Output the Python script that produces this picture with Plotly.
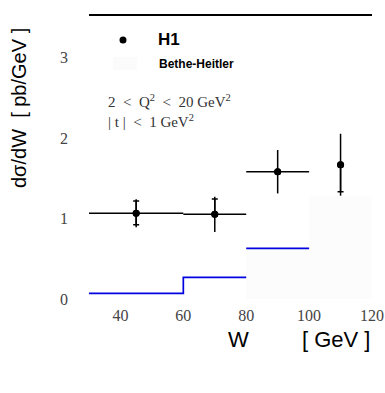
import plotly.graph_objects as go

# ---- data ----
W = [45, 70, 90, 110]
W_err = [15, 10, 10, 0]
xsec = [1.066, 1.053, 1.583, 1.67]
err_tot = [0.174, 0.22, 0.27, 0.385]
stat_up = [0.153, 0.19, 0.0, 0.0]
stat_dn = [0.142, 0.0, 0.0, 0.335]

bh_x = [30, 40, 60, 80, None, 80, 100]
bh_y = [0.07, 0.07, 0.27, 0.27, None, 0.63, 0.63]
bh_fill_x = [90, 110]
bh_fill_y = [0.63, 1.28]
bh_fill_w = [20, 20]

xticks = [40, 60, 80, 100, 120]
yticks = [0, 1, 2, 3]

W_PX, H_PX = 385, 393
L, R, T, B = 89, 13, 15, 91
PW = W_PX - L - R
PH = H_PX - T - B


def px(x):
    return (x - L) / PW


def py(y):
    return (H_PX - B - y) / PH


fig = go.Figure()

fig.add_trace(go.Bar(x=bh_fill_x, y=bh_fill_y, width=bh_fill_w,
                     marker=dict(color="#fcfcfc", line=dict(width=0)),
                     showlegend=False, hoverinfo="skip"))

fig.add_trace(go.Scatter(x=bh_x, y=bh_y, mode="lines", line_shape="hv",
                         line=dict(color="#0000e0", width=1.7),
                         showlegend=False, connectgaps=False))

# total errors
fig.add_trace(go.Scatter(x=W, y=xsec, mode="markers",
                         marker=dict(color="black", size=7),
                         error_x=dict(type="data", array=W_err, color="black",
                                      thickness=1.5, width=0),
                         error_y=dict(type="data", array=err_tot, color="black",
                                      thickness=1.5, width=0),
                         showlegend=False))
# stat ticks
fig.add_trace(go.Scatter(x=W, y=xsec, mode="markers",
                         marker=dict(color="black", size=7),
                         error_y=dict(type="data", symmetric=False, array=stat_up,
                                      arrayminus=stat_dn, color="black",
                                      thickness=1.5, width=3),
                         showlegend=False))

fig.add_shape(type="line", xref="paper", yref="paper", x0=0, x1=1, y0=1, y1=1,
              line=dict(color="black", width=2))

# legend
fig.add_shape(type="circle", xref="paper", yref="paper",
              x0=px(119.5), x1=px(126.5), y0=py(43.5), y1=py(36.5),
              fillcolor="black", line=dict(width=0))
fig.add_shape(type="rect", xref="paper", yref="paper",
              x0=px(113), x1=px(137), y0=py(70), y1=py(57),
              fillcolor="#fbfbfb", line=dict(width=0))

NB = "\u00a0"
ann = [
    dict(text="<b>H1</b>", x=px(156), y=py(40), xanchor="left", yanchor="middle",
         font=dict(family="Liberation Sans", size=17, color="black")),
    dict(text="<b>Bethe-Heitler</b>", x=px(157), y=py(64), xanchor="left", yanchor="middle",
         font=dict(family="Liberation Sans", size=12, color="black")),
    dict(text=f"2{NB}{NB}&lt;{NB}{NB}Q<sup>2</sup>{NB}{NB}&lt;{NB}{NB}20{NB}GeV<sup>2</sup>",
         x=px(106), y=py(101), xanchor="left", yanchor="middle",
         font=dict(family="Liberation Serif", size=15, color="#333")),
    dict(text=f"|{NB}t{NB}|{NB}{NB}&lt;{NB}{NB}1{NB}GeV<sup>2</sup>",
         x=px(106), y=py(121), xanchor="left", yanchor="middle",
         font=dict(family="Liberation Serif", size=15, color="#333")),
    dict(text=f"dσ/dW{NB}{NB}[{NB}pb/GeV{NB}]", x=px(19), y=py(108), textangle=-90,
         xanchor="center", yanchor="middle",
         font=dict(family="Liberation Sans", size=20, color="black")),
    dict(text="W", x=px(238), y=py(339), xanchor="center", yanchor="middle",
         font=dict(family="Liberation Sans", size=22, color="black")),
    dict(text=f"[{NB}GeV{NB}]", x=px(336), y=py(339), xanchor="center", yanchor="middle",
         font=dict(family="Liberation Sans", size=22, color="black")),
]
for a in ann:
    a.update(xref="paper", yref="paper", showarrow=False)
fig.update_layout(annotations=ann)

fig.update_layout(
    width=W_PX, height=H_PX,
    margin=dict(l=L, r=R, t=T, b=B, pad=0, autoexpand=False),
    plot_bgcolor="white", paper_bgcolor="white",
    showlegend=False,
    xaxis=dict(range=[30, 120], tickvals=xticks, showgrid=False, zeroline=False,
               showline=False, ticks="", ticklabelstandoff=2, automargin=False,
               tickfont=dict(family="Liberation Serif", size=16, color="#444")),
    yaxis=dict(range=[(299 - (H_PX - B)) / 80.4, (299 - T) / 80.4], tickvals=yticks,
               showgrid=False, zeroline=False, showline=False, ticks="",
               ticklabelstandoff=20, automargin=False,
               tickfont=dict(family="Liberation Serif", size=16, color="#444")),
)

fig.write_html("out.html", config={"displayModeBar": False},
               post_script="document.body.style.margin='0';document.body.style.overflow='hidden';")
